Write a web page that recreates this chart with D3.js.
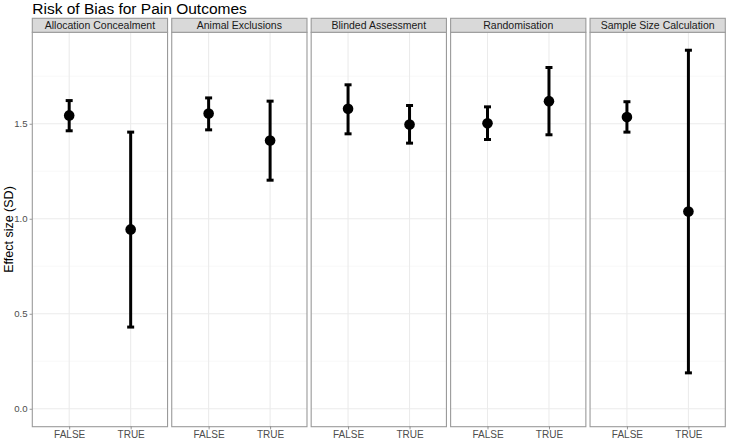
<!DOCTYPE html>
<html>
<head>
<meta charset="utf-8">
<script src="https://cdn.jsdelivr.net/npm/d3@7"></script>
<style>
  html, body { margin: 0; padding: 0; background: #ffffff; }
  svg { display: block; font-family: "Liberation Sans", Arial, sans-serif; }
</style>
</head>
<body>
<svg id="chart" width="729" height="440"></svg>
<script>
const title = "Risk of Bias for Pain Outcomes";
const yTitle = "Effect size (SD)";
const categories = ["Allocation Concealment", "Animal Exclusions", "Blinded Assessment", "Randomisation", "Sample Size Calculation"];
const groups = ["FALSE", "TRUE"];
const falseMean  = [1.544, 1.554, 1.579, 1.503, 1.535];
const falseLower = [1.463, 1.468, 1.447, 1.417, 1.456];
const falseUpper = [1.622, 1.636, 1.705, 1.589, 1.616];
const trueMean   = [0.944, 1.412, 1.496, 1.619, 1.038];
const trueLower  = [0.430, 1.203, 1.398, 1.442, 0.189];
const trueUpper  = [1.456, 1.619, 1.596, 1.796, 1.887];
const yTicks = [0.0, 0.5, 1.0, 1.5];
const yMinor = [0.25, 0.75, 1.25, 1.75];

const rows = [];
categories.forEach((c, i) => {
  rows.push({cat: c, grp: "FALSE", mean: falseMean[i], lo: falseLower[i], hi: falseUpper[i]});
  rows.push({cat: c, grp: "TRUE", mean: trueMean[i], lo: trueLower[i], hi: trueUpper[i]});
});

const svg = d3.select("#chart");
const plotLeft = 32.3, plotRight = 725.3, stripTop = 18.3, panelTop = 32.3, panelBottom = 426.7;

// y range: include 0, expand 5%
const dataMax = d3.max(rows, d => d.hi), dataMin = Math.min(0, d3.min(rows, d => d.lo));
const pad = (dataMax - dataMin) * 0.05;
const y = d3.scaleLinear().domain([dataMin - pad, dataMax + pad]).range([panelBottom, panelTop]);

const facet = d3.scaleBand().domain(categories).range([plotLeft, plotRight]).paddingInner(0.03).paddingOuter(0);
const pw = facet.bandwidth();
const x = d3.scalePoint().domain(groups).range([0, pw]).padding(0.6);

svg.append("text").attr("x", plotLeft).attr("y", 14).attr("font-size", 15.5).attr("fill", "#000").text(title);

svg.append("text")
  .attr("transform", `translate(13,${(panelTop + panelBottom) / 2}) rotate(-90)`)
  .attr("text-anchor", "middle").attr("font-size", 12.5).attr("fill", "#000").text(yTitle);

// y axis tick labels (left of first panel)
const yAxis = d3.axisLeft(y).tickValues(yTicks).tickFormat(d3.format(".1f")).tickSize(2.7).tickPadding(2);
const ya = svg.append("g").attr("transform", `translate(${plotLeft},0)`).call(yAxis);
ya.select(".domain").remove();
ya.selectAll("line").attr("stroke", "#333").attr("stroke-width", 0.5);
ya.selectAll("text").attr("font-size", 9.6).attr("fill", "#4d4d4d").attr("font-family", "Liberation Sans, Arial, sans-serif");

categories.forEach(cat => {
  const g = svg.append("g").attr("transform", `translate(${facet(cat)},0)`);
  // minor grid
  g.selectAll(".minor").data(yMinor).join("line")
    .attr("x1", 0).attr("x2", pw).attr("y1", d => y(d)).attr("y2", d => y(d))
    .attr("stroke", "#f4f4f4").attr("stroke-width", 0.6);
  // major grid
  g.selectAll(".majorY").data(yTicks).join("line")
    .attr("x1", 0).attr("x2", pw).attr("y1", d => y(d)).attr("y2", d => y(d))
    .attr("stroke", "#ebebeb").attr("stroke-width", 1.07);
  g.selectAll(".majorX").data(groups).join("line")
    .attr("x1", d => x(d)).attr("x2", d => x(d)).attr("y1", panelTop).attr("y2", panelBottom)
    .attr("stroke", "#ebebeb").attr("stroke-width", 1.07);

  const d = rows.filter(r => r.cat === cat);
  // error bars
  const eb = g.selectAll(".eb").data(d).join("g");
  eb.append("line").attr("x1", r => x(r.grp)).attr("x2", r => x(r.grp))
    .attr("y1", r => y(r.lo)).attr("y2", r => y(r.hi)).attr("stroke", "#000").attr("stroke-width", 3);
  eb.append("line").attr("x1", r => x(r.grp) - 3.5).attr("x2", r => x(r.grp) + 3.5)
    .attr("y1", r => y(r.lo)).attr("y2", r => y(r.lo)).attr("stroke", "#000").attr("stroke-width", 3);
  eb.append("line").attr("x1", r => x(r.grp) - 3.5).attr("x2", r => x(r.grp) + 3.5)
    .attr("y1", r => y(r.hi)).attr("y2", r => y(r.hi)).attr("stroke", "#000").attr("stroke-width", 3);
  g.selectAll(".pt").data(d).join("circle")
    .attr("cx", r => x(r.grp)).attr("cy", r => y(r.mean)).attr("r", 5.3).attr("fill", "#000");

  // panel border
  g.append("rect").attr("x", 0).attr("y", panelTop).attr("width", pw).attr("height", panelBottom - panelTop)
    .attr("fill", "none").attr("stroke", "#9a9a9a").attr("stroke-width", 1.1);
  // strip
  g.append("rect").attr("x", 0).attr("y", stripTop).attr("width", pw).attr("height", panelTop - stripTop)
    .attr("fill", "#d9d9d9").attr("stroke", "#9a9a9a").attr("stroke-width", 1.1);
  g.append("text").attr("x", pw / 2).attr("y", 29.2).attr("text-anchor", "middle")
    .attr("font-size", 10.5).attr("fill", "#1a1a1a").text(cat);

  // x axis
  const xa = g.append("g").attr("transform", `translate(0,${panelBottom})`)
    .call(d3.axisBottom(x).tickSize(2.7).tickPadding(1.5));
  xa.select(".domain").remove();
  xa.selectAll("line").attr("stroke", "#333").attr("stroke-width", 0.5);
  xa.selectAll("text").attr("font-size", 10).attr("fill", "#4d4d4d").attr("font-family", "Liberation Sans, Arial, sans-serif");
});
</script>
</body>
</html>
